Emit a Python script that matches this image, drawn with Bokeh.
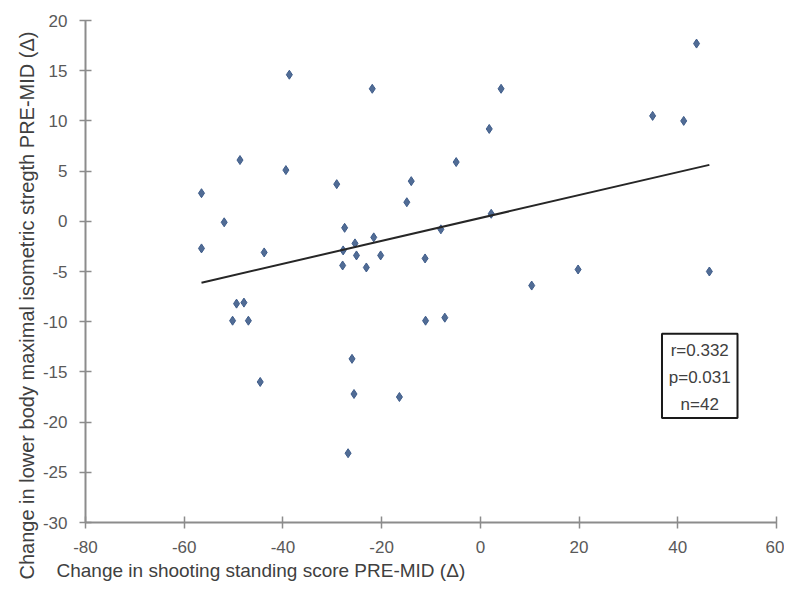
import math
from bokeh.plotting import figure
from bokeh.models import Range1d, FixedTicker, Label, BoxAnnotation, ColumnDataSource, Title
from bokeh.embed import file_html
from bokeh.resources import INLINE

# Data
shooting_change = [-56.5, -38.7, -21.9, -48.7, -39.4, -29.1, -51.9, -27.5, -56.5, -43.8,
                   -27.8, -25.4, -21.6, -25.1, -20.2, -27.9, -23.1, 43.8, 4.2, 34.9,
                   41.2, 1.8, -4.9, -14.0, -14.9, 2.2, -8.0, -11.2, 19.8, 46.4,
                   10.4, -49.4, -47.9, -50.2, -47.0, -44.6, -26.0, -25.6, -26.8, -16.4,
                   -11.1, -7.2]
strength_change = [2.8, 14.6, 13.2, 6.1, 5.1, 3.7, -0.1, -0.65, -2.7, -3.1,
                   -2.9, -2.2, -1.6, -3.4, -3.4, -4.4, -4.6, 17.7, 13.2, 10.5,
                   10.0, 9.2, 5.9, 4.0, 1.9, 0.75, -0.8, -3.7, -4.8, -5.0,
                   -6.4, -8.2, -8.1, -9.9, -9.9, -16.0, -13.7, -17.2, -23.1, -17.5,
                   -9.9, -9.6]
trend_slope = 0.114
trend_intercept = 0.33
stats_lines = ["r=0.332", "p=0.031", "n=42"]
x_ticks = [-80, -60, -40, -20, 0, 20, 40, 60]
y_ticks = [-30, -25, -20, -15, -10, -5, 0, 5, 10, 15, 20]
x_label_text = "Change in shooting standing score PRE-MID (Δ)"
y_label_text = "Change in lower body maximal isometric stregth PRE-MID (Δ)"

FONT = "Liberation Sans"
AXIS_COL = "#8C8C8C"
TEXT_COL = "#595959"
TITLE_COL = "#404040"

p = figure(width=784, height=583, output_backend="svg", toolbar_location=None,
           x_range=Range1d(-80, 60), y_range=Range1d(-30, 20),
           min_border_left=85, min_border_right=8, min_border_top=20, min_border_bottom=61)
p.outline_line_color = None
p.xgrid.visible = False
p.ygrid.visible = False
p.background_fill_color = "white"
p.border_fill_color = "white"

for ax in (p.xaxis[0], p.yaxis[0]):
    ax.axis_line_color = AXIS_COL
    ax.axis_line_width = 2
    ax.major_tick_line_color = AXIS_COL
    ax.major_tick_line_width = 1.5
    ax.major_tick_in = 6
    ax.major_tick_out = 6
    ax.minor_tick_line_color = None
    ax.major_label_text_font = FONT
    ax.major_label_text_font_size = "17px"
    ax.major_label_text_color = TEXT_COL

p.xaxis[0].ticker = FixedTicker(ticks=x_ticks)
p.yaxis[0].ticker = FixedTicker(ticks=y_ticks)
p.xaxis[0].major_label_overrides = {t: str(t) for t in x_ticks}
p.yaxis[0].major_label_overrides = {t: str(t) for t in y_ticks}
p.xaxis[0].major_label_standoff = 12
p.yaxis[0].major_label_standoff = 12

src = ColumnDataSource(data=dict(x=shooting_change, y=strength_change))
p.scatter("x", "y", source=src, marker="diamond", size=9,
          fill_color="#3E5C8A", line_color="#3E5C8A", fill_alpha=0.9)

x0, x1 = min(shooting_change), max(shooting_change)
p.line([x0, x1], [trend_intercept + trend_slope * x0, trend_intercept + trend_slope * x1],
       line_color="#262626", line_width=2)

# stats box
p.add_layout(BoxAnnotation(left=36.8, right=52.1, top=-11.2, bottom=-19.6,
                           fill_color="white", fill_alpha=1.0,
                           line_color="#1A1A1A", line_alpha=1.0, line_width=2))
for i, t in enumerate(stats_lines):
    p.add_layout(Label(x=44.45, y=-12.9 - i * 2.65, text=t, text_align="center",
                       text_baseline="middle", text_font=FONT, text_font_size="17px",
                       text_color=TITLE_COL))

# axis titles
xt = Title(text=x_label_text, align="left", offset=-29, standoff=4, text_font=FONT,
           text_font_size="19px", text_font_style="normal", text_color=TITLE_COL)
p.add_layout(xt, "below")
yt = Title(text=y_label_text, align="left", offset=-57, standoff=4, text_font=FONT,
           text_font_size="20px", text_font_style="normal", text_color=TITLE_COL)
p.add_layout(yt, "left")

open("out.html", "w").write(file_html(p, INLINE))
